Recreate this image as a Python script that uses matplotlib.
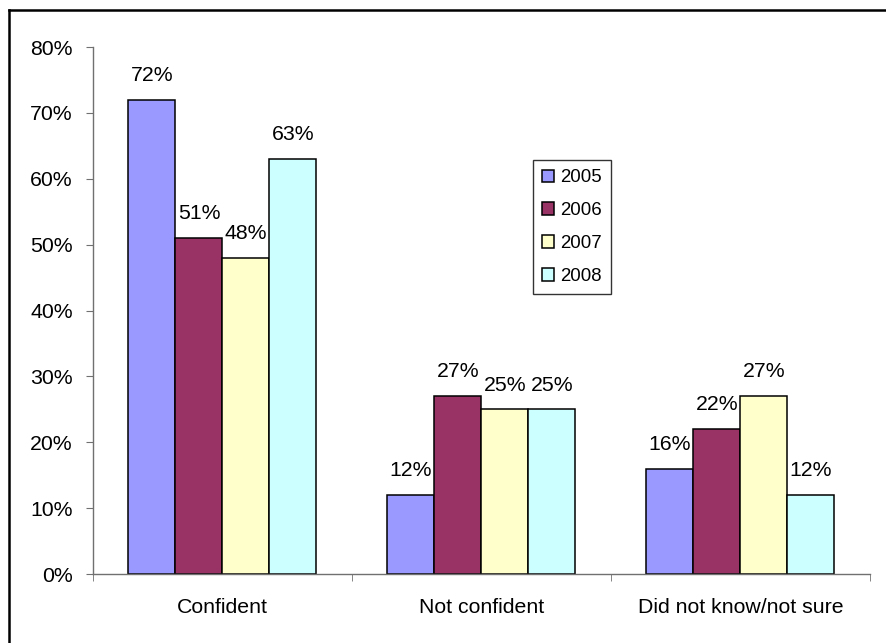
import numpy as np
import matplotlib
matplotlib.use("Agg")
import matplotlib.pyplot as plt
from matplotlib.lines import Line2D

plt.rcParams['font.family'] = ['Liberation Sans', 'DejaVu Sans']

categories = ['Confident', 'Not confident', 'Did not know/not sure']
years = ['2005', '2006', '2007', '2008']
vals_2005 = [72, 12, 16]
vals_2006 = [51, 27, 22]
vals_2007 = [48, 25, 27]
vals_2008 = [63, 25, 12]
colors = ['#9999FF', '#993366', '#FFFFCC', '#CCFFFF']

series = [vals_2005, vals_2006, vals_2007, vals_2008]

fig = plt.figure(figsize=(8.87, 6.43), dpi=100)
ax = fig.add_axes([0.1048, 0.1073, 0.876, 0.8196])

x = np.arange(len(categories))
w = 0.1815
for i, (vals, yr, c) in enumerate(zip(series, years, colors)):
    pos = x + (i - 1.5) * w
    ax.bar(pos, vals, width=w, color=c, edgecolor='black', linewidth=1.1, label=yr)
    for px, v in zip(pos, vals):
        ax.annotate(f'{v}%', (px, v), xytext=(0, 17.5), textcoords='offset points',
                    ha='center', va='center', fontsize=15.3)

ax.set_xlim(-0.5, 2.5)
ax.set_ylim(0, 80)
ax.set_yticks(range(0, 81, 10))
ax.set_yticklabels([f'{t}%' for t in range(0, 81, 10)], fontsize=15.3)
ax.set_xticks(x)
ax.set_xticklabels(categories, fontsize=15.3)
ax.set_xticks([-0.5, 0.5, 1.5, 2.5], minor=True)
ax.tick_params(axis='x', which='major', length=0, pad=17.5)
ax.tick_params(axis='x', which='minor', length=5, color='#707070', direction='out')
ax.tick_params(axis='y', length=5, color='#707070', pad=9.5)

for s in ['top', 'right']:
    ax.spines[s].set_visible(False)
for s in ['left', 'bottom']:
    ax.spines[s].set_color('#707070')
    ax.spines[s].set_linewidth(1.0)

leg = ax.legend(loc='upper left', bbox_to_anchor=(0.601, 0.751), bbox_transform=fig.transFigure,
                fontsize=13.4, frameon=True, fancybox=False, edgecolor='black',
                handlelength=0.65, handleheight=0.65, handletextpad=0.3,
                labelspacing=0.85, borderpad=0.5, borderaxespad=0)
leg.get_frame().set_linewidth(1.0)

# chart border (top and left edges visible)
fig.add_artist(Line2D([0.0101, 1.0], [0.9844, 0.9844], color='black', linewidth=1.8))
fig.add_artist(Line2D([0.0101, 0.0101], [0.0, 0.9844], color='black', linewidth=1.8))

fig.savefig('out.png', dpi=100)
